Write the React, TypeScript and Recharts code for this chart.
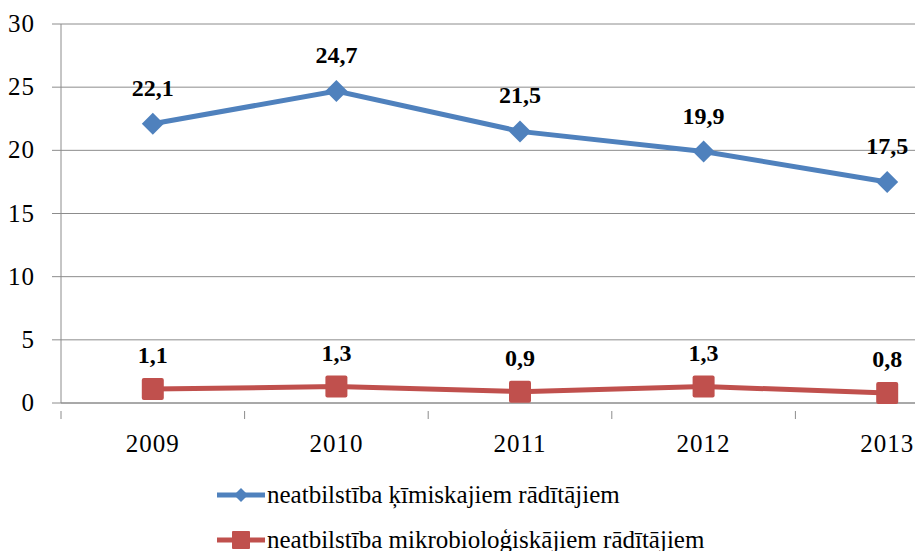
import { LineChart, Line, XAxis, YAxis, CartesianGrid, Legend, LabelList } from 'recharts';

// gadi un abu rādītāju vērtības (%)
const years = ['2009', '2010', '2011', '2012', '2013'];
const chemical = [22.1, 24.7, 21.5, 19.9, 17.5];
const microbio = [1.1, 1.3, 0.9, 1.3, 0.8];
const yTicks = [0, 5, 10, 15, 20, 25, 30];

const seriesNames = {
  chemical: 'neatbilstība ķīmiskajiem rādītājiem',
  microbio: 'neatbilstība mikrobioloģiskājiem rādītājiem',
};

const BLUE = '#4F81BD';
const RED = '#C0504D';
const GRID = '#8c8c8c';
const FONT = 'Liberation Serif';

const W = 990;
const H = 551;
const LEFT = 61;
const RIGHT = 11;
const BAND = (W - LEFT - RIGHT) / years.length;

const data = years.map((year, i) => ({
  year,
  chemical: chemical[i],
  microbio: microbio[i],
}));

const fmt = (v: any) => String(v).replace('.', ',');

const Diamond = (props: any) => {
  const { cx, cy } = props;
  if (cx == null || cy == null) return null;
  const r = 11;
  return (
    <polygon
      points={`${cx},${cy - r} ${cx + r},${cy} ${cx},${cy + r} ${cx - r},${cy}`}
      fill={BLUE}
    />
  );
};

const Square = (props: any) => {
  const { cx, cy } = props;
  if (cx == null || cy == null) return null;
  const s = 11;
  return <rect x={cx - s} y={cy - s} width={s * 2} height={s * 2} rx={2} fill={RED} />;
};

const YearTick = (props: any) => {
  const { x, y, payload, index } = props;
  const last = index === years.length - 1;
  return (
    <g>
      <line x1={x - BAND / 2} y1={y} x2={x - BAND / 2} y2={y + 8} stroke={GRID} />
      {last && <line x1={x + BAND / 2} y1={y} x2={x + BAND / 2} y2={y + 8} stroke={GRID} />}
      <text
        x={x}
        y={y + 41}
        textAnchor="middle"
        fontSize={25}
        fontFamily={FONT}
        letterSpacing={1}
        style={{ fontFamily: FONT }}
        fill="#000"
      >
        {payload.value}
      </text>
    </g>
  );
};

const ValueTick = (props: any) => {
  const { x, y, payload } = props;
  return (
    <text
      x={x}
      y={y}
      dy={8}
      textAnchor="end"
      fontSize={25}
      fontFamily={FONT}
      letterSpacing={1}
      style={{ fontFamily: FONT }}
      fill="#000"
    >
      {payload.value}
    </text>
  );
};

const PointLabel = (props: any) => {
  const { x, y, width, value, off } = props;
  const cx = x + (width || 0) / 2;
  return (
    <text
      x={cx}
      y={y - off}
      textAnchor="middle"
      fontSize={24}
      fontWeight="bold"
      fontFamily={FONT}
      style={{ fontFamily: FONT, fontWeight: 'bold' }}
      fill="#000"
    >
      {fmt(value)}
    </text>
  );
};

const LegendBox = () => {
  const rows = [
    { name: seriesNames.chemical, color: BLUE, kind: 'diamond' },
    { name: seriesNames.microbio, color: RED, kind: 'square' },
  ];
  return (
    <div>
      {rows.map((r) => (
        <div key={r.name} style={{ display: 'flex', alignItems: 'center', height: 45 }}>
          <svg width={48} height={22} style={{ marginRight: 2 }}>
            <line x1={0} y1={11} x2={48} y2={11} stroke={r.color} strokeWidth={5} />
            {r.kind === 'diamond' ? (
              <polygon points="24,4 31,11 24,18 17,11" fill={r.color} />
            ) : (
              <rect x={15} y={2} width={18} height={18} rx={1} fill={r.color} />
            )}
          </svg>
          <span style={{ whiteSpace: 'nowrap', fontFamily: FONT, fontSize: 25, color: '#000' }}>{r.name}</span>
        </div>
      ))}
    </div>
  );
};

export default function App() {
  return (
    <div style={{ position: 'absolute', left: 0, top: 0, width: 915, height: 551, overflow: 'hidden', background: '#fff' }}>
      <LineChart width={W} height={H} data={data} margin={{ top: 24, right: RIGHT, bottom: 108, left: 0 }}>
        <CartesianGrid vertical={false} stroke={GRID} strokeWidth={1} />
        <XAxis
          dataKey="year"
          height={40}
          stroke={GRID}
          tickLine={false}
          tick={<YearTick />}
          interval={0}
          padding={{ left: BAND / 2, right: BAND / 2 }}
        />
        <YAxis
          width={LEFT}
          domain={[0, 30]}
          ticks={yTicks}
          stroke={GRID}
          tickSize={9}
          tickMargin={17}
          tick={<ValueTick />}
        />
        <Legend
          layout="vertical"
          verticalAlign="middle"
          align="center"
          content={<LegendBox />}
          wrapperStyle={{ position: 'absolute', top: 472, left: 217, width: 650 }}
        />
        <Line
          dataKey="chemical"
          name={seriesNames.chemical}
          stroke={BLUE}
          strokeWidth={5}
          dot={<Diamond />}
          activeDot={false}
          isAnimationActive={false}
        >
          <LabelList dataKey="chemical" content={<PointLabel off={28} />} />
        </Line>
        <Line
          dataKey="microbio"
          name={seriesNames.microbio}
          stroke={RED}
          strokeWidth={5}
          dot={<Square />}
          activeDot={false}
          isAnimationActive={false}
        >
          <LabelList dataKey="microbio" content={<PointLabel off={26} />} />
        </Line>
      </LineChart>
    </div>
  );
}
